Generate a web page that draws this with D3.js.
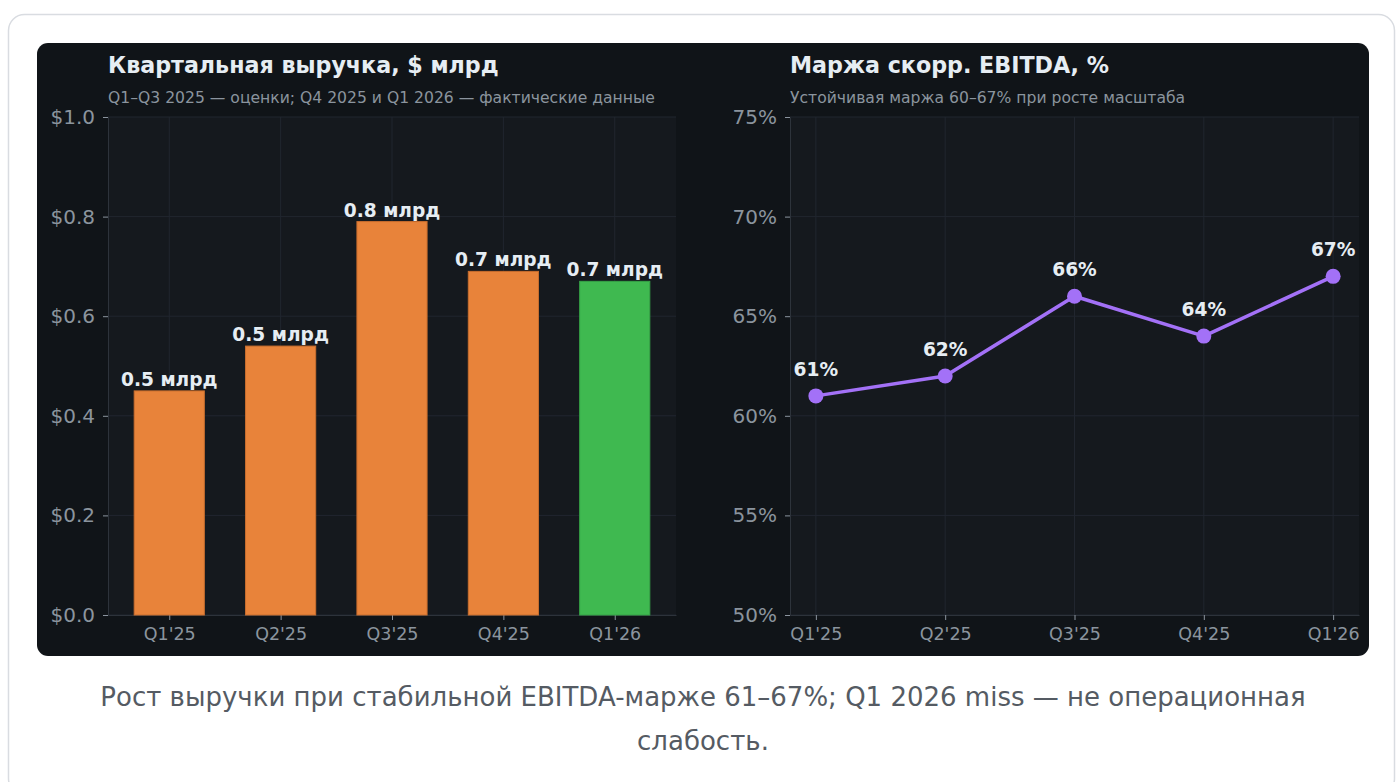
<!DOCTYPE html>
<html>
<head>
<meta charset="utf-8">
<script src="https://cdn.jsdelivr.net/npm/d3@7"></script>
<style>
  body { margin: 0; background: #ffffff; }
  svg { display: block; font-family: "DejaVu Sans", sans-serif; }
</style>
</head>
<body>
<div id="chart-area"></div>
<script>
// data
const quarters = ["Q1'25", "Q2'25", "Q3'25", "Q4'25", "Q1'26"];
const revenue = [0.45, 0.54, 0.79, 0.69, 0.67];
const revenueLabels = ["0.5 млрд", "0.5 млрд", "0.8 млрд", "0.7 млрд", "0.7 млрд"];
const actual = [false, false, false, false, true];
const margin = [61, 62, 66, 64, 67];
const revenueTicks = [0, 0.2, 0.4, 0.6, 0.8, 1.0];
const marginTicks = [50, 55, 60, 65, 70, 75];

const width = 1396;
const height = 782;

const svg = d3.select("#chart-area")
    .append("svg")
    .attr("width", width)
    .attr("height", height);

// card
svg.append("rect")
    .attr("x", 8.5).attr("y", 14.5)
    .attr("width", 1386).attr("height", 780)
    .attr("rx", 16)
    .attr("fill", "#ffffff")
    .attr("stroke", "#d9dce1")
    .attr("stroke-width", 1.5);

// dark figure
svg.append("rect")
    .attr("x", 37).attr("y", 43)
    .attr("width", 1332).attr("height", 613)
    .attr("rx", 11)
    .attr("fill", "#101418");

const plotTop = 117, plotBottom = 615;

function panel(left, right, title, subtitle) {
    const g = svg.append("g");
    g.append("rect")
        .attr("x", left).attr("y", plotTop)
        .attr("width", right - left).attr("height", plotBottom - plotTop)
        .attr("fill", "#15191e");
    g.append("text")
        .attr("x", left).attr("y", 73)
        .attr("font-size", "22.2px")
        .attr("font-weight", "bold")
        .attr("fill", "#e6edf3")
        .text(title);
    g.append("text")
        .attr("x", left).attr("y", 103)
        .attr("font-size", "15.6px")
        .attr("fill", "#8b949e")
        .text(subtitle);
    return g;
}

function styleAxes(g, x, y, xTicks, yTicks, left, right, yFmt) {
    // grid
    g.append("g").selectAll("line").data(xTicks).enter().append("line")
        .attr("x1", d => x(d)).attr("x2", d => x(d))
        .attr("y1", plotTop).attr("y2", plotBottom)
        .attr("stroke", "#21262f").attr("stroke-width", 1);
    g.append("g").selectAll("line").data(yTicks).enter().append("line")
        .attr("x1", left).attr("x2", right)
        .attr("y1", d => y(d)).attr("y2", d => y(d))
        .attr("stroke", "#21262f").attr("stroke-width", 1);

    const xAxis = g.append("g")
        .attr("transform", "translate(0," + plotBottom + ")")
        .call(d3.axisBottom(x).tickValues(xTicks).tickFormat(i => quarters[i]).tickSize(5).tickSizeOuter(0));
    const yAxis = g.append("g")
        .attr("transform", "translate(" + left + ",0)")
        .call(d3.axisLeft(y).tickValues(yTicks).tickFormat(yFmt).tickSize(5).tickSizeOuter(0));

    g.selectAll(".domain").attr("stroke", "#2d333b");
    g.selectAll(".tick line").attr("stroke", "#8b949e");
    xAxis.selectAll("text").attr("fill", "#8b949e").attr("font-size", "17.5px")
        .attr("font-family", "DejaVu Sans").attr("dy", "0.95em");
    yAxis.selectAll("text").attr("fill", "#8b949e").attr("font-size", "20px")
        .attr("font-family", "DejaVu Sans").attr("dx", "-0.25em");
}

// left: revenue bars
const L = {left: 108, right: 676};
const gL = panel(L.left, L.right, "Квартальная выручка, $ млрд",
    "Q1–Q3 2025 — оценки; Q4 2025 и Q1 2026 — фактические данные");

const x1 = d3.scaleLinear().domain([-0.55, 4.55]).range([L.left, L.right]);
const y1 = d3.scaleLinear().domain([0, 1.0]).range([plotBottom, plotTop]);
const idx = d3.range(quarters.length);

styleAxes(gL, x1, y1, idx, revenueTicks, L.left, L.right, d => "$" + d.toFixed(1));

const barW = x1(0.315) - x1(0);
gL.append("g").selectAll("rect").data(idx).enter().append("rect")
    .attr("x", i => x1(i) - barW)
    .attr("y", i => y1(revenue[i]))
    .attr("width", barW * 2)
    .attr("height", i => y1(0) - y1(revenue[i]))
    .attr("fill", i => actual[i] ? "#3fb950" : "#e8833a")
    .attr("stroke", i => actual[i] ? "#36a347" : "#c96e2e")
    .attr("stroke-width", 1);

gL.append("g").selectAll("text").data(idx).enter().append("text")
    .attr("x", i => x1(i))
    .attr("y", i => y1(revenue[i]) - 5)
    .attr("text-anchor", "middle")
    .attr("font-size", "18.6px")
    .attr("font-weight", "bold")
    .attr("fill", "#e6edf3")
    .text(i => revenueLabels[i]);

// right: margin line
const R = {left: 790, right: 1359};
const gR = panel(R.left, R.right, "Маржа скорр. EBITDA, %",
    "Устойчивая маржа 60–67% при росте масштаба");

const x2 = d3.scaleLinear().domain([-0.2, 4.2]).range([R.left, R.right]);
const y2 = d3.scaleLinear().domain([50, 75]).range([plotBottom, plotTop]);

styleAxes(gR, x2, y2, idx, marginTicks, R.left, R.right, d => d + "%");

const line = d3.line()
    .x(i => x2(i))
    .y(i => y2(margin[i]));

gR.append("path")
    .datum(idx)
    .attr("d", line)
    .attr("fill", "none")
    .attr("stroke", "#a371f7")
    .attr("stroke-width", 3.5)
    .attr("stroke-linejoin", "round");

gR.append("g").selectAll("circle").data(idx).enter().append("circle")
    .attr("cx", i => x2(i))
    .attr("cy", i => y2(margin[i]))
    .attr("r", 7.5)
    .attr("fill", "#a371f7");

gR.append("g").selectAll("text").data(idx).enter().append("text")
    .attr("x", i => x2(i))
    .attr("y", i => y2(margin[i]) - 20)
    .attr("text-anchor", "middle")
    .attr("font-size", "18.6px")
    .attr("font-weight", "bold")
    .attr("fill", "#e6edf3")
    .text(i => margin[i] + "%");

// caption
const caption = svg.append("text")
    .attr("text-anchor", "middle")
    .attr("font-size", "26px")
    .attr("fill", "#555b63");
caption.append("tspan").attr("x", 703).attr("y", 706)
    .text("Рост выручки при стабильной EBITDA-марже 61–67%; Q1 2026 miss — не операционная");
caption.append("tspan").attr("x", 703).attr("y", 750)
    .text("слабость.");
</script>
</body>
</html>
